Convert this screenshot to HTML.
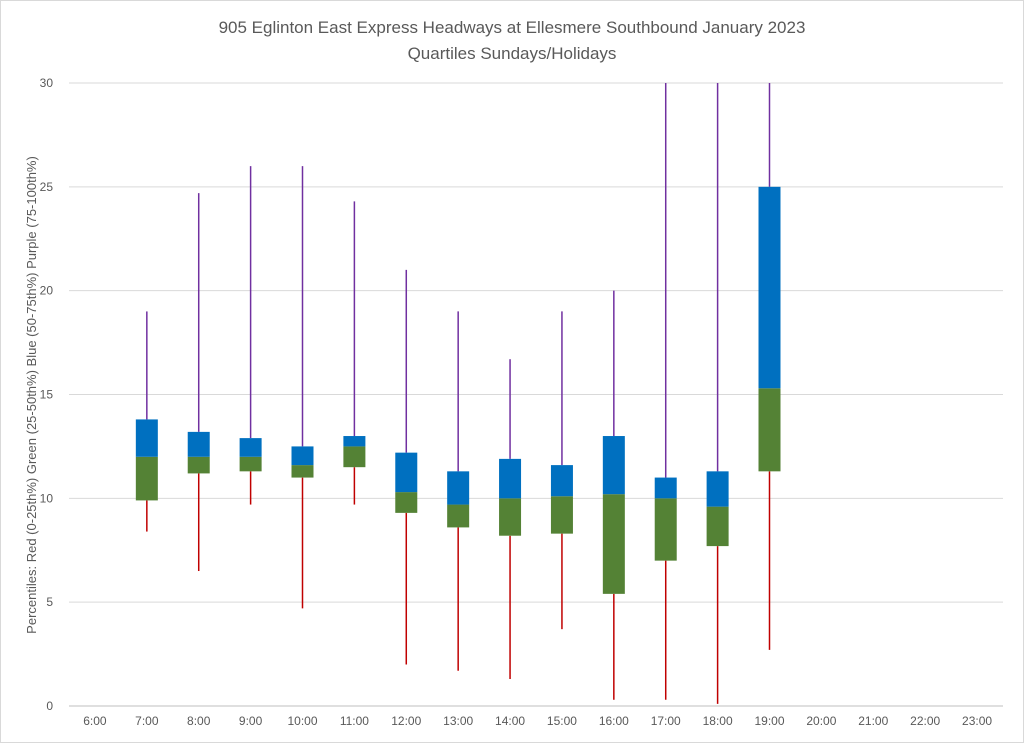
<!DOCTYPE html>
<html><head><meta charset="utf-8"><style>
body{margin:0;background:#fff;}
svg{display:block;font-family:"Liberation Sans",Arial,sans-serif;}
</style></head><body>
<svg id="chart" width="1024" height="743" viewBox="0 0 1024 743">
<rect x="0.5" y="0.5" width="1023" height="742" fill="#fff" stroke="#d9d9d9"/>
<text x="512" y="33" text-anchor="middle" font-size="17" fill="#595959">905 Eglinton East Express Headways at Ellesmere Southbound January 2023</text>
<text x="512" y="59" text-anchor="middle" font-size="17" fill="#595959">Quartiles Sundays/Holidays</text>
<text transform="translate(36,395) rotate(-90)" text-anchor="middle" font-size="13" fill="#595959">Percentiles:  Red (0-25th%)  Green (25-50th%)  Blue (50-75th%)  Purple (75-100th%)</text>
<g id="grid"></g><g id="marks"></g><g id="xlabels"></g>
</svg>
<script>
const categories=["6:00","7:00","8:00","9:00","10:00","11:00","12:00","13:00","14:00","15:00","16:00","17:00","18:00","19:00","20:00","21:00","22:00","23:00"];
const minVals=[null,8.4,6.5,9.7,4.7,9.7,2.0,1.7,1.3,3.7,0.3,0.3,0.1,2.7,null,null,null,null];
const q1Vals=[null,9.9,11.2,11.3,11.0,11.5,9.3,8.6,8.2,8.3,5.4,7.0,7.7,11.3,null,null,null,null];
const medVals=[null,12.0,12.0,12.0,11.6,12.5,10.3,9.7,10.0,10.1,10.2,10.0,9.6,15.3,null,null,null,null];
const q3Vals=[null,13.8,13.2,12.9,12.5,13.0,12.2,11.3,11.9,11.6,13.0,11.0,11.3,25.0,null,null,null,null];
const maxVals=[null,19,24.7,26,26,24.3,21,19,16.7,19,20,30,30,30,null,null,null,null];
const yTicks=[0,5,10,15,20,25,30];
const NS="http://www.w3.org/2000/svg";
const L=69,R=1003,T=83,B=706,YMAX=30;
const y=v=>B-(v/YMAX)*(B-T);
const bw=(R-L)/categories.length;
const x=i=>L+bw*(i+0.5);
function mk(tag,at,parent){const e=document.createElementNS(NS,tag);for(const k in at)e.setAttribute(k,at[k]);parent.appendChild(e);return e;}
const grid=document.getElementById('grid'),marks=document.getElementById('marks'),xl=document.getElementById('xlabels');
yTicks.forEach(t=>{
 const g=mk('line',{x1:L,x2:R,y1:y(t),y2:y(t),stroke:t===0?'#bfbfbf':'#d9d9d9','stroke-width':1},grid);
 
 
 const tx=mk('text',{x:53,y:y(t)+4,'text-anchor':'end','font-size':12,fill:'#595959'},grid);
 tx.textContent=t;
 
 
});
categories.forEach((c,i)=>{
 const tx=mk('text',{x:x(i),y:725,'text-anchor':'middle','font-size':12,fill:'#595959'},xl);
 tx.textContent=c;
 
 
 if(minVals[i]==null)return;
 const cx=x(i),w=22;
 const lo=mk('line',{x1:cx,x2:cx,y1:y(minVals[i]),y2:y(q1Vals[i]),stroke:'#c00000','stroke-width':1.5},marks);
 
 
 const hi=mk('line',{x1:cx,x2:cx,y1:y(q3Vals[i]),y2:y(maxVals[i]),stroke:'#7030a0','stroke-width':1.5},marks);
 
 
 const g=mk('rect',{x:cx-w/2,y:y(medVals[i]),width:w,height:y(q1Vals[i])-y(medVals[i]),fill:'#548235'},marks);
 
 
 const b=mk('rect',{x:cx-w/2,y:y(q3Vals[i]),width:w,height:y(medVals[i])-y(q3Vals[i]),fill:'#0070c0'},marks);
 
 
});
</script>
</body></html>
